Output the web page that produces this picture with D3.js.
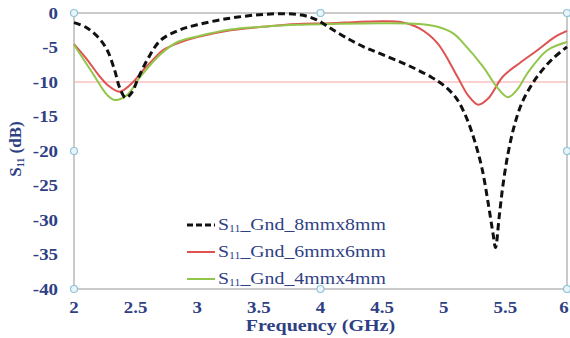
<!DOCTYPE html>
<html><head><meta charset="utf-8">
<script src="https://cdn.jsdelivr.net/npm/d3@7/dist/d3.min.js"></script>
<style>body{margin:0;background:#fff}svg{display:block}</style>
</head><body><svg id="c" width="570" height="338"></svg>
<script>
const xTicks = [2, 2.5, 3, 3.5, 4, 4.5, 5, 5.5, 6];
const yTicks = [0, -5, -10, -15, -20, -25, -30, -35, -40];
const seriesNames = ["Gnd_8mmx8mm", "Gnd_6mmx6mm", "Gnd_4mmx4mm"];
const freq8 = [2.0,2.1,2.2,2.27,2.33,2.37,2.42,2.47,2.52,2.6,2.7,2.85,3.0,3.25,3.5,3.7,3.85,3.97,4.08,4.2,4.35,4.5,4.7,4.9,5.0,5.1,5.18,5.25,5.31,5.36,5.4,5.42,5.45,5.48,5.52,5.57,5.63,5.7,5.78,5.88,6.0];
const s11_8 = [-1.4,-2.1,-3.6,-5.4,-8.3,-10.8,-12.3,-11.5,-9.5,-6.6,-4.0,-2.5,-1.7,-0.8,-0.25,-0.1,-0.3,-1.0,-2.2,-3.5,-4.9,-6.0,-7.5,-9.3,-10.5,-12.3,-15,-18.5,-22.5,-27.5,-32,-34,-29.5,-25,-20.5,-16.5,-13.2,-10.8,-8.7,-6.7,-4.9];
const freq6 = [2.0,2.1,2.2,2.27,2.37,2.48,2.56,2.64,2.72,2.84,3.0,3.27,3.53,3.81,4.08,4.3,4.5,4.65,4.8,4.95,5.11,5.2,5.28,5.36,5.48,5.62,5.76,5.9,6.0];
const s11_6 = [-4.5,-6.6,-9.0,-10.4,-11.4,-10.0,-8.3,-6.8,-5.4,-4.4,-3.5,-2.5,-2.0,-1.6,-1.5,-1.3,-1.2,-1.3,-2.2,-4.4,-9.2,-12.0,-13.3,-12.4,-9.2,-7.2,-5.4,-3.5,-2.6];
const freq4 = [2.0,2.15,2.27,2.33,2.43,2.54,2.7,2.84,3.0,3.27,3.53,3.81,4.08,4.5,4.8,4.95,5.08,5.16,5.32,5.43,5.52,5.6,5.68,5.84,6.0];
const s11_4 = [-4.6,-8.7,-11.9,-12.6,-11.9,-9.2,-6.0,-4.2,-3.4,-2.4,-2.0,-1.7,-1.6,-1.5,-1.6,-2.0,-3.0,-4.4,-7.8,-10.7,-12.2,-11.0,-8.7,-5.4,-4.2];
const threshold = -10;

const svg = d3.select("#c");
const L = 74, R = 567, T = 13, B = 289;
const x = d3.scaleLinear().domain([2, 6]).range([L, R]);
const y = d3.scaleLinear().domain([0, -40]).range([T, B]);
const navy = "#2f3f84";
const SX = 1.18;

svg.append("rect").attr("x", L).attr("y", T).attr("width", R - L).attr("height", B - T)
  .attr("fill", "none").attr("stroke", "#bdbdbd").attr("stroke-width", 1.6);

svg.append("line").attr("x1", L).attr("x2", R).attr("y1", y(threshold)).attr("y2", y(threshold))
  .attr("stroke", "#f6a4a4").attr("stroke-width", 1.2);

const fontS = "'Liberation Serif','Times New Roman',serif";
yTicks.forEach(v => {
  svg.append("g").attr("transform", `translate(58,${y(v) + 5.5}) scale(${SX},1)`)
    .append("text").attr("text-anchor", "end").attr("font-family", fontS)
    .attr("font-weight", "bold").attr("font-size", 16).attr("fill", navy).text(v);
});
xTicks.forEach(v => {
  svg.append("g").attr("transform", `translate(${Math.min(x(v), 564)},${313}) scale(${SX},1)`)
    .append("text").attr("text-anchor", "middle").attr("font-family", fontS)
    .attr("font-weight", "bold").attr("font-size", 16).attr("fill", navy).text(v);
});
svg.append("g").attr("transform", `translate(${x(4)},331) scale(${SX},1)`)
  .append("text").attr("text-anchor", "middle").attr("font-family", fontS)
  .attr("font-weight", "bold").attr("font-size", 17).attr("fill", navy).text("Frequency (GHz)");

const yt = svg.append("text").attr("transform", "translate(21,149) rotate(-90)")
  .attr("text-anchor", "middle").attr("font-family", fontS).attr("font-weight", "bold")
  .attr("font-size", 17).attr("fill", navy);
yt.append("tspan").text("S");
yt.append("tspan").attr("font-size", 10).attr("dy", 3).text("11");
yt.append("tspan").attr("dy", -3).text(" (dB)");

const line = d3.line().x(d => x(d[0])).y(d => y(d[1])).curve(d3.curveCatmullRom.alpha(0.5));
const series = [
  {f: freq6, v: s11_6, color: "#df5252", w: 2, dash: null},
  {f: freq4, v: s11_4, color: "#92c64a", w: 2, dash: null},
  {f: freq8, v: s11_8, color: "#111", w: 3, dash: "7,4"}
];
series.forEach(s => {
  svg.append("path").datum(d3.zip(s.f, s.v)).attr("d", line).attr("fill", "none")
    .attr("stroke", s.color).attr("stroke-width", s.w).attr("stroke-dasharray", s.dash);
});

[[L, T], [x(4), T], [R, T], [L, y(-20)], [R, y(-20)], [L, B], [x(4), B], [R, B]].forEach(p => {
  svg.append("circle").attr("cx", p[0]).attr("cy", p[1]).attr("r", 3.5)
    .attr("fill", "#eaf5f9").attr("stroke", "#8fc3d6").attr("stroke-width", 1.2);
});

const leg = [
  {name: seriesNames[0], color: "#111", w: 3, dash: "6,3", y: 225},
  {name: seriesNames[1], color: "#df5252", w: 2, dash: null, y: 252},
  {name: seriesNames[2], color: "#92c64a", w: 2, dash: null, y: 279}
];
leg.forEach(l => {
  svg.append("line").attr("x1", 187).attr("x2", 215).attr("y1", l.y).attr("y2", l.y)
    .attr("stroke", l.color).attr("stroke-width", l.w).attr("stroke-dasharray", l.dash);
  const t = svg.append("g").attr("transform", `translate(218,${l.y + 5}) scale(1.24,1)`)
    .append("text").attr("font-family", fontS).attr("font-size", 16).attr("fill", navy);
  t.append("tspan").text("S");
  t.append("tspan").attr("font-size", 9.5).attr("dy", 2).text("11");
  t.append("tspan").attr("dy", -2).text("_" + l.name);
});
</script></body></html>
